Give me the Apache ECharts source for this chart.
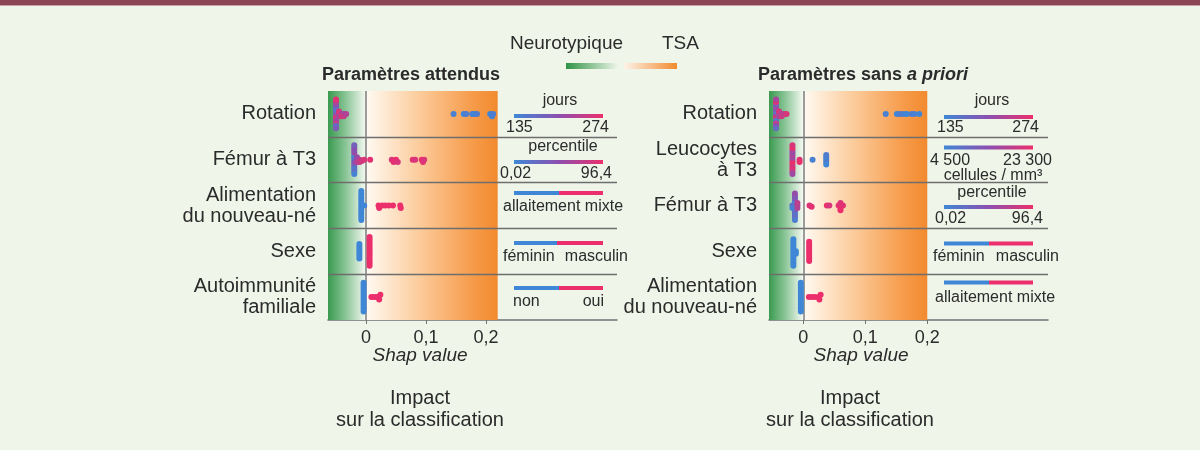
<!DOCTYPE html>
<html>
<head>
<meta charset="utf-8">
<script src="https://cdn.jsdelivr.net/npm/echarts@6/dist/echarts.min.js"></script>
<style>
html,body{margin:0;padding:0;background:#eff5e9;}
#c{width:1200px;height:450px;}
</style>
</head>
<body>
<div id="c"></div>
<script>
// ---------- DATA ----------
const leftCategories = ['Rotation', 'Fémur à T3', 'Alimentation\ndu nouveau-né', 'Sexe', 'Autoimmunité\nfamiliale'];
const rightCategories = ['Rotation', 'Leucocytes\nà T3', 'Fémur à T3', 'Sexe', 'Alimentation\ndu nouveau-né'];
const xTickValues = [0, 0.1, 0.2];
const rowBoundaries = [1, 2, 3, 4];

// Left panel "Paramètres attendus" — SHAP values and normalised feature values (0 = low/blue, 1 = high/pink)
const lRotationShap = [-0.050,-0.050,-0.050,-0.050,-0.050,-0.050,-0.050,-0.050,-0.050,-0.050,-0.050,-0.050,-0.050,
  -0.045,-0.045,-0.045,-0.041,-0.041,-0.037,-0.037,-0.033,
  0.146,0.163,0.167,0.177,0.181,0.185,0.207,0.210,0.212];
const lRotationFeat = [0.2,0.7,0.4,0.9,0.1,0.6,0.3,0.8,0.5,0.2,0.7,0.4,0.95,
  0.8,0.6,0.9,0.7,0.9,0.6,0.8,0.7,
  0.05,0.0,0.1,0.05,0.0,0.1,0.0,0.05,0.1];

const lFemurShap = [-0.0195,-0.0195,-0.0195,-0.0195,-0.0195,-0.0195,-0.0195,-0.0195,-0.0195,-0.0195,-0.0195,-0.0195,-0.0195,
  -0.015,-0.015,-0.015,-0.0105,-0.0105,-0.007,-0.003,
  0.007,0.043,0.046,0.050,0.053,0.078,0.082,0.093,0.095,0.097];
const lFemurFeat = [0.1,0.4,0.2,0.5,0.0,0.3,0.6,0.1,0.45,0.25,0.5,0.05,0.35,
  0.6,0.7,0.55,0.75,0.8,0.85,0.9,
  0.95,0.9,0.95,1,0.9,0.95,0.9,1,0.95,0.9];

const lAlimShap = [-0.0078,-0.0078,-0.0078,-0.0078,-0.0078,-0.0078,-0.0078,-0.0078,-0.0078,-0.0078,-0.0078,-0.0078,-0.0078,-0.003,
  0.021,0.022,0.027,0.032,0.038,0.045,0.057,0.058];
const lAlimFeat = [0,0,0,0,0,0,0,0,0,0,0,0,0,0,
  1,1,1,1,1,1,1,1];

const lSexeShap = [-0.011,-0.011,-0.011,-0.011,-0.011,-0.011,-0.011,
  0.006,0.006,0.006,0.006,0.006,0.006,0.006,0.006,0.006,0.006,0.006,0.006,0.006];
const lSexeFeat = [0,0,0,0,0,0,0,
  1,1,1,1,1,1,1,1,1,1,1,1,1];

const lAutoShap = [-0.004,-0.004,-0.004,-0.004,-0.004,-0.004,-0.004,-0.004,-0.004,-0.004,-0.004,-0.004,-0.004,
  0.009,0.013,0.017,0.021,0.022,0.024];
const lAutoFeat = [0,0,0,0,0,0,0,0,0,0,0,0,0,
  1,1,1,1,1,1];

// Right panel "Paramètres sans a priori"
const rRotationShap = [-0.044,-0.044,-0.044,-0.044,-0.044,-0.044,-0.044,-0.044,-0.044,-0.044,-0.044,-0.044,-0.044,
  -0.039,-0.039,-0.039,-0.035,-0.035,-0.031,-0.027,
  0.133,0.151,0.156,0.162,0.167,0.175,0.179,0.187];
const rRotationFeat = [0.3,0.7,0.2,0.9,0.45,0.1,0.6,0.8,0.35,0.5,0.95,0.25,0.65,
  0.8,0.6,0.9,0.7,0.85,0.75,0.9,
  0.05,0.0,0.1,0.05,0.0,0.1,0.05,0.0];

const rLeucoShap = [-0.0175,-0.0175,-0.0175,-0.0175,-0.0175,-0.0175,-0.0175,-0.0175,-0.0175,-0.0175,-0.0175,-0.0175,-0.0175,
  -0.006,-0.006,0.015,0.037,0.037,0.037,0.037,0.037];
const rLeucoFeat = [0.5,0.9,0.6,1,0.7,0.85,0.55,0.95,0.65,0.8,1,0.6,0.9,
  0.95,1,0.05,0.0,0.1,0.05,0.0,0.1];

const rFemurShap = [-0.0135,-0.0135,-0.0135,-0.0135,-0.0135,-0.0135,-0.0135,-0.0135,-0.0135,-0.0135,-0.0135,-0.0135,
  -0.0175,-0.0175,-0.0095,-0.0095,-0.0095,
  0.010,0.0135,0.038,0.042,0.057,0.060,0.060,0.060,0.064];
const rFemurFeat = [0.1,0.35,0.2,0.5,0.05,0.3,0.45,0.15,0.4,0.25,0.55,0.1,
  0.2,0.05,0.6,0.7,0.75,
  0.9,0.95,1,0.9,0.95,1,0.9,1,0.95];

const rSexeShap = [-0.016,-0.016,-0.016,-0.016,-0.016,-0.016,-0.016,-0.016,-0.016,-0.016,-0.016,-0.016,
  -0.012,-0.012,
  0.0095,0.0095,0.0095,0.0095,0.0095,0.0095,0.0095,0.0095,0.0095];
const rSexeFeat = [0,0,0,0,0,0,0,0,0,0,0,0,
  0,0,
  1,1,1,1,1,1,1,1,1];

const rAlimShap = [-0.004,-0.004,-0.004,-0.004,-0.004,-0.004,-0.004,-0.004,-0.004,-0.004,-0.004,-0.004,-0.004,
  0.009,0.014,0.019,0.025,0.026,0.028];
const rAlimFeat = [0,0,0,0,0,0,0,0,0,0,0,0,0,
  1,1,1,1,1,1];

const leftRows = [[lRotationShap,lRotationFeat],[lFemurShap,lFemurFeat],[lAlimShap,lAlimFeat],[lSexeShap,lSexeFeat],[lAutoShap,lAutoFeat]];
const rightRows = [[rRotationShap,rRotationFeat],[rLeucoShap,rLeucoFeat],[rFemurShap,rFemurFeat],[rSexeShap,rSexeFeat],[rAlimShap,rAlimFeat]];

// ---------- LAYOUT / STYLE ----------
const FONT = "'Liberation Sans', Arial, sans-serif";
const TXT = '#2b2b2b';
const BLUE = '#3f87d6', PURPLE = '#8c4fb0', PINK = '#ec2f6c';
const LG = {left:328, top:91, width:289, height:229, xmin:-0.0633, shadeMax:0.2195, pxPerUnit:600};
const RG = {left:769, top:91, width:279, height:229, xmin:-0.0553, shadeMax:0.2, pxPerUnit:620};
LG.xmax = LG.xmin + LG.width / LG.pxPerUnit;
RG.xmax = RG.xmin + RG.width / RG.pxPerUnit;

// beeswarm layout (pixel-space collision) -> y offsets
function swarm(rows, g) {
  const D = 2.4, H = D / 2, rowPx = g.height / 5, out = [];
  rows.forEach(([shaps, feats], r) => {
    const placed = [];
    shaps.forEach((v, i) => {
      const x = v * g.pxPerUnit;
      let y = 0;
      for (let k = 0; k < 120; k++) {
        const cand = k === 0 ? 0 : (k % 2 ? 1 : -1) * Math.ceil(k / 2) * H;
        const hit = placed.some(p => {
          const dx = p.x - x, dy = p.y - cand;
          return dx * dx + dy * dy < D * D - 0.01;
        });
        if (!hit) { y = cand; break; }
      }
      placed.push({x, y});
      out.push([v, r + 0.5 + y / rowPx, feats[i]]);
    });
  });
  return out;
}

const greenGrad = () => new echarts.graphic.LinearGradient(0,0,1,0,[
  {offset:0,color:'#3a9a50'},{offset:0.45,color:'#86c393'},{offset:1,color:'#f6faf3'}]);
const orangeGrad = () => new echarts.graphic.LinearGradient(0,0,1,0,[
  {offset:0,color:'#fffaf3'},{offset:0.4,color:'#fccc9c'},{offset:0.8,color:'#f69c4c'},{offset:1,color:'#f28a2e'}]);
const featGrad = () => new echarts.graphic.LinearGradient(0,0,1,0,[
  {offset:0,color:BLUE},{offset:0.5,color:PURPLE},{offset:1,color:PINK}]);

function xAxisCfg(gi, g) {
  return {
    gridIndex: gi, type: 'value', position: 'bottom', min: g.xmin, max: g.xmax,
    axisLine: {show: true, onZero: false, lineStyle: {color: '#707070', width: 1.5}},
    axisTick: {show: true, customValues: xTickValues, length: 4, lineStyle: {color: '#707070'}},
    axisLabel: {customValues: xTickValues, formatter: v => String(v).replace('.', ','),
      fontSize: 18, color: TXT, fontFamily: FONT, margin: 9},
    splitLine: {show: false}
  };
}
function yAxesCfg(gi, cats) {
  return [{
    gridIndex: gi, type: 'value', position: 'left', min: 0, max: 5, interval: 1, inverse: true,
    axisLine: {show: false, onZero: false}, axisTick: {show: false}, axisLabel: {show: false}, splitLine: {show: false}
  }, {
    gridIndex: gi, type: 'category', position: 'left', offset: 0, data: cats, inverse: true,
    axisLine: {show: false, onZero: false}, axisTick: {show: false}, splitLine: {show: false},
    axisLabel: {fontSize: 20, color: TXT, fontFamily: FONT, lineHeight: 21, margin: 12, align: 'right'}
  }];
}
function panelSeries(xi, yi, g, rows) {
  return [{
    type: 'scatter', xAxisIndex: xi, yAxisIndex: yi, data: [], z: 1, silent: true,
    markArea: {silent: true, data: [
      [{xAxis: g.xmin, itemStyle: {color: greenGrad()}}, {xAxis: 0}],
      [{xAxis: 0, itemStyle: {color: orangeGrad()}}, {xAxis: g.shadeMax}]
    ]}
  }, {
    type: 'scatter', xAxisIndex: xi, yAxisIndex: yi, data: [], z: 2, silent: true,
    markLine: {silent: true, symbol: ['none','none'], label: {show: false},
      lineStyle: {color: '#6e6e6e', width: 1.3, type: 'solid'},
      data: rowBoundaries.map(b => ({yAxis: b})).concat([{xAxis: 0, lineStyle: {color: '#7d7d7d', width: 1.5}}])}
  }, {
    type: 'scatter', xAxisIndex: xi, yAxisIndex: yi, z: 5, symbolSize: 6,
    itemStyle: {opacity: 1}, data: swarm(rows, g)
  }];
}

function T(text, x, y, o) {
  o = o || {};
  return {type: 'text', x: x, y: y, silent: true, z: 10, style: {
    text: text, fill: TXT, align: o.align || 'center', verticalAlign: 'middle',
    font: (o.style || '') + ' ' + (o.weight || 'normal') + ' ' + (o.size || 16) + 'px ' + FONT
  }};
}
function R(x, y, w, h, fill) {
  return {type: 'rect', silent: true, z: 10, shape: {x: x, y: y, width: w, height: h}, style: {fill: fill}};
}

const graphics = [
  R(0, 0, 1200, 5, '#8b4553'), R(0, 5, 1200, 1, '#c8a2a8'),
  // top legend
  T('Neurotypique', 510, 44, {align: 'left', size: 19}),
  T('TSA', 662, 44, {align: 'left', size: 19}),
  R(566, 63, 52, 6, new echarts.graphic.LinearGradient(0,0,1,0,[{offset:0,color:'#2f9446'},{offset:1,color:'#eef5e8'}])),
  R(624, 63, 53, 6, new echarts.graphic.LinearGradient(0,0,1,0,[{offset:0,color:'#fdf3e8'},{offset:1,color:'#f28a2e'}])),
  // titles
  T('Paramètres attendus', 411, 75, {weight: 'bold', size: 18}),
  {type: 'text', x: 863, y: 75, silent: true, z: 10, style: {
    text: '{b|Paramètres sans }{bi|a priori}', align: 'center', verticalAlign: 'middle',
    rich: {b: {fontFamily: FONT, fontWeight: 'bold', fontSize: 18, fill: TXT},
           bi: {fontFamily: FONT, fontWeight: 'bold', fontStyle: 'italic', fontSize: 18, fill: TXT}}}},
  // axis names
  T('Shap value', 420, 356, {style: 'italic', size: 19}),
  T('Shap value', 861, 356, {style: 'italic', size: 19}),
  T('Impact', 420, 398, {size: 20}), T('sur la classification', 420, 420, {size: 20}),
  T('Impact', 850, 398, {size: 20}), T('sur la classification', 850, 420, {size: 20}),
  // left feature legends
  T('jours', 560, 101), R(514, 114, 89, 4, featGrad()),
  T('135', 506, 128, {align: 'left'}), T('274', 609, 128, {align: 'right'}),
  T('percentile', 563, 147), R(514, 160, 89, 4, featGrad()),
  T('0,02', 500, 174, {align: 'left'}), T('96,4', 612, 174, {align: 'right'}),
  R(514, 191, 45, 4, BLUE), R(559, 191, 44, 4, PINK),
  T('allaitement mixte', 563, 207),
  R(514, 241, 43, 4, BLUE), R(557, 241, 46, 4, PINK),
  T('féminin', 503, 257, {align: 'left'}), T('masculin', 628, 257, {align: 'right'}),
  R(514, 286, 45, 4, BLUE), R(559, 286, 44, 4, PINK),
  T('non', 513, 302, {align: 'left'}), T('oui', 604, 302, {align: 'right'}),
  // right feature legends
  T('jours', 992, 101), R(944, 115, 89, 4, featGrad()),
  T('135', 937, 128, {align: 'left'}), T('274', 1039, 128, {align: 'right'}),
  R(944, 145.5, 89, 4, featGrad()),
  T('4 500', 930, 161, {align: 'left'}), T('23 300', 1052, 161, {align: 'right'}),
  T('cellules / mm³', 993, 176),
  T('percentile', 992, 193), R(944, 205, 89, 4, featGrad()),
  T('0,02', 935, 219, {align: 'left'}), T('96,4', 1043, 219, {align: 'right'}),
  R(944, 241.5, 45, 4, BLUE), R(989, 241.5, 44, 4, PINK),
  T('féminin', 933, 257, {align: 'left'}), T('masculin', 1059, 257, {align: 'right'}),
  R(944, 280.5, 45, 4, BLUE), R(989, 280.5, 44, 4, PINK),
  T('allaitement mixte', 995, 298)
];

const chart = echarts.init(document.getElementById('c'), null, {renderer: 'canvas'});
chart.setOption({
  backgroundColor: '#eff5e9',
  animation: false,
  textStyle: {fontFamily: FONT},
  grid: [
    {left: LG.left, top: LG.top, width: LG.width, height: LG.height},
    {left: RG.left, top: RG.top, width: RG.width, height: RG.height}
  ],
  xAxis: [xAxisCfg(0, LG), xAxisCfg(1, RG)],
  yAxis: [].concat(yAxesCfg(0, leftCategories), yAxesCfg(1, rightCategories)),
  visualMap: {type: 'continuous', show: false, dimension: 2, min: 0, max: 1, seriesIndex: [2, 5],
    inRange: {color: [BLUE, PURPLE, PINK]}},
  series: [].concat(panelSeries(0, 0, LG, leftRows), panelSeries(1, 2, RG, rightRows)),
  graphic: graphics
});
</script>
</body>
</html>
